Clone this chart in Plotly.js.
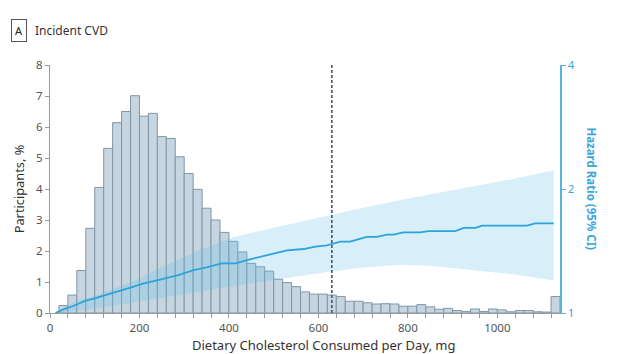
<!DOCTYPE html>
<html>
<head>
<meta charset="utf-8">
<script src="https://cdn.plot.ly/plotly-3.0.1.min.js"></script>
<style>html,body{margin:0;padding:0;background:#fff;}#chart{width:620px;height:354px;}</style>
</head>
<body>
<div id="chart"></div>
<script>
// Histogram: bin left edges (mg) and % of participants
const binStarts = [20,40,60,80,100,120,140,160,180,200,220,240,260,280,300,320,340,360,380,400,
  420,440,460,480,500,520,540,560,580,600,620,640,660,680,700,720,740,760,780,800,
  820,840,860,880,900,920,940,960,980,1000,1020,1040,1060,1080,1100,1120];
const participantsPct = [0.24,0.58,1.37,2.73,4.05,5.31,6.14,6.50,7.01,6.35,6.44,5.69,5.63,5.04,4.50,3.99,3.38,3.00,2.60,2.31,
  1.97,1.60,1.49,1.35,1.09,0.98,0.85,0.68,0.61,0.61,0.58,0.53,0.38,0.38,0.33,0.29,0.30,0.29,0.22,0.22,
  0.27,0.20,0.12,0.15,0.08,0.05,0.13,0.05,0.13,0.10,0.04,0.08,0.08,0.04,0.03,0.53];
const binWidth = 20;

// Hazard ratio curve
const hrX = [12,30,52,78,100,120,142,165,186,210,239,265,287,321,350,384,403,414,447,485,530,567,593,619,649,671,708,731,753,768,790,828,846,906,925,951,966,1066,1085,1126];
const hrY = [1.0,1.02,1.04,1.07,1.085,1.10,1.12,1.14,1.16,1.18,1.20,1.22,1.236,1.27,1.29,1.32,1.32,1.32,1.35,1.38,1.42,1.43,1.45,1.46,1.49,1.49,1.53,1.53,1.55,1.55,1.57,1.57,1.58,1.58,1.61,1.61,1.63,1.63,1.65,1.65];

// 95% CI
const ciUpperX = [12,30,52,100,138,190,235,320,410,500,604,700,783,828,950,1040,1126];
const ciUpperY = [1.0,1.03,1.06,1.10,1.14,1.20,1.27,1.40,1.53,1.61,1.71,1.80,1.88,1.92,2.03,2.12,2.22];
const ciLowerX = [12,52,138,235,320,380,470,604,700,783,856,950,1040,1126];
const ciLowerY = [1.0,1.01,1.04,1.08,1.12,1.15,1.19,1.25,1.29,1.31,1.30,1.27,1.24,1.20];

const thresholdMg = 630;

const xTickVals = [0,200,400,600,800,1000];
const yLeftTicks = [0,1,2,3,4,5,6,7,8];
const yRightTicks = [1,2,4];

const blue = '#2ba3dc';
const font = 'Noto Sans, Open Sans, sans-serif';

const bars = {
  type: 'bar',
  x: binStarts.map(s => s + binWidth/2),
  y: participantsPct,
  width: binWidth,
  marker: {color: '#c6d5df', line: {color: '#7f97a7', width: 1}},
  hoverinfo: 'skip',
  xaxis: 'x', yaxis: 'y'
};
const lower = {
  type: 'scatter', mode: 'lines', x: ciLowerX, y: ciLowerY,
  line: {width: 0, color: 'rgba(0,0,0,0)'}, xaxis: 'x', yaxis: 'y2', hoverinfo: 'skip'
};
const upper = {
  type: 'scatter', mode: 'lines', x: ciUpperX, y: ciUpperY,
  line: {width: 0, color: 'rgba(0,0,0,0)'}, fill: 'tonexty',
  fillcolor: 'rgba(100,190,235,0.25)', xaxis: 'x', yaxis: 'y2', hoverinfo: 'skip'
};
const hr = {
  type: 'scatter', mode: 'lines', x: hrX, y: hrY,
  line: {color: blue, width: 1.8}, xaxis: 'x', yaxis: 'y2', hoverinfo: 'skip'
};

const layout = {
  width: 620, height: 354,
  margin: {l: 50, r: 60, t: 65, b: 41},
  paper_bgcolor: '#fff', plot_bgcolor: '#fff',
  showlegend: false,
  font: {family: font, size: 11, color: '#444'},
  xaxis: {
    range: [0, 1140], tickvals: xTickVals, showgrid: false, zeroline: false,
    showline: true, linecolor: '#9a9a9a', linewidth: 1,
    ticks: 'outside', ticklen: 4, tickcolor: '#9a9a9a',
    minor: {dtick: 40, tick0: 0, ticks: 'outside', ticklen: 4, tickcolor: '#9a9a9a'},
    tickfont: {size: 11.5, color: '#555'}
  },
  yaxis: {
    range: [0, 8], tickvals: yLeftTicks, showgrid: false, zeroline: false,
    showline: true, linecolor: '#9a9a9a', linewidth: 1,
    ticks: 'outside', ticklen: 4, tickcolor: '#9a9a9a',
    tickfont: {size: 11.5, color: '#555'},
    title: {text: 'Participants, %', font: {size: 12.8, color: '#333'}, standoff: 8}
  },
  yaxis2: {
    type: 'log', range: [0, Math.log10(4)], overlaying: 'y', side: 'right',
    tickvals: yRightTicks, ticktext: yRightTicks.map(String),
    showgrid: false, zeroline: false,
    showline: true, linecolor: '#5ab4e0', linewidth: 1.5,
    ticks: 'outside', ticklen: 4, tickcolor: '#5ab4e0',
    tickfont: {size: 11.5, color: '#3aa6dc'}
  },
  shapes: [{
    type: 'line', xref: 'x', yref: 'paper', x0: thresholdMg, x1: thresholdMg, y0: 0, y1: 1,
    line: {color: '#4a5560', width: 1.6, dash: '3px,2px'}
  }],
  annotations: [
    {xref: 'paper', yref: 'paper', x: (190-50)/510, y: (313-345)/248, xanchor: 'left', yanchor: 'middle',
     text: 'Dietary Cholesterol Consumed per Day, mg', showarrow: false,
     font: {size: 13, color: '#333'}},
    {xref: 'paper', yref: 'paper', x: 1.062, y: 0.5, xanchor: 'center', yanchor: 'middle',
     text: '<b>Hazard Ratio (95% CI)</b>', textangle: 90, showarrow: false,
     font: {size: 11.5, color: '#3aa6dc'}},
    {xref: 'paper', yref: 'paper', xanchor: 'left', yanchor: 'middle',
     x: -50/510 + 11/510, y: 1 + (65-30)/248,
     text: 'A', showarrow: false, bordercolor: '#555', borderwidth: 1, borderpad: 3,
     font: {size: 11, color: '#222'}},
    {xref: 'paper', yref: 'paper', xanchor: 'left', yanchor: 'middle',
     x: -50/510 + 33/510, y: 1 + (65-30)/248,
     text: 'Incident CVD', showarrow: false,
     font: {size: 12, color: '#333'}}
  ]
};

Plotly.newPlot('chart', [bars, lower, upper, hr], layout, {displayModeBar: false, staticPlot: true});
</script>
</body>
</html>
